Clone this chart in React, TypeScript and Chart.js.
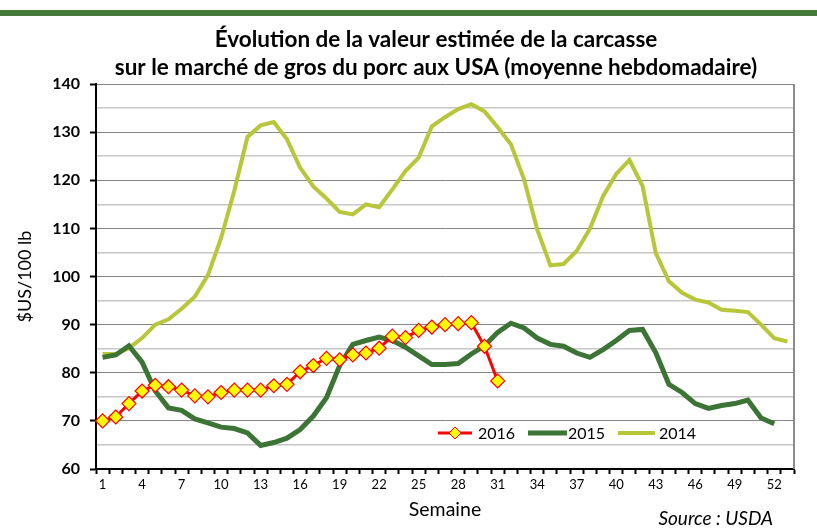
import React, { useEffect, useRef } from 'react';
import { Chart, registerables } from 'chart.js';

Chart.register(...registerables);

const weeks = ['1','2','3','4','5','6','7','8','9','10','11','12','13','14','15','16','17','18','19','20','21','22','23','24','25','26','27','28','29','30','31','32','33','34','35','36','37','38','39','40','41','42','43','44','45','46','47','48','49','50','51','52','53'];

const values2016 = [70.0, 70.8, 73.6, 76.2, 77.4, 77.1, 76.4, 75.2, 75.0, 75.9, 76.4, 76.4, 76.4, 77.3, 77.6, 80.2, 81.5, 83.0, 82.7, 83.7, 84.1, 85.1, 87.6, 87.3, 88.8, 89.5, 90.0, 90.2, 90.4, 85.5, 78.3];

const values2015 = [83.2, 83.7, 85.6, 82.2, 76.2, 72.7, 72.2, 70.4, 69.6, 68.7, 68.4, 67.5, 64.9, 65.5, 66.4, 68.2, 71.0, 74.8, 81.5, 85.9, 86.7, 87.4, 86.7, 85.3, 83.5, 81.7, 81.7, 81.9, 83.9, 85.6, 88.4, 90.3, 89.3, 87.2, 85.9, 85.5, 84.1, 83.2, 84.8, 86.7, 88.8, 89.0, 84.2, 77.6, 75.9, 73.6, 72.6, 73.2, 73.6, 74.3, 70.6, 69.4];

const values2014 = [83.9, 83.9, 85.1, 87.2, 90.0, 91.1, 93.3, 95.8, 100.3, 108.0, 117.8, 129.0, 131.4, 132.1, 128.5, 122.6, 118.7, 116.2, 113.4, 112.9, 115.0, 114.4, 118.1, 121.9, 124.7, 131.2, 133.1, 134.8, 135.8, 134.3, 131.0, 127.5, 120.2, 109.8, 102.3, 102.6, 105.3, 109.9, 116.7, 121.3, 124.2, 118.8, 104.9, 99.0, 96.6, 95.2, 94.6, 93.1, 92.9, 92.6, 90.0, 87.2, 86.5];

const seriesNames = ['2016', '2015', '2014'];
const titleLines = ['Évolution de la valeur estimée de la carcasse', 'sur le marché de gros du porc aux USA (moyenne hebdomadaire)'];
const yTitle = '$US/100 lb';
const xTitle = 'Semaine';
const sourceText = 'Source : USDA';

const FONT = 'Lato, "Liberation Sans", sans-serif';

const decorPlugin = {
  id: 'decor',
  beforeDraw(chart: any) {
    const { ctx, width, height } = chart;
    ctx.save();
    ctx.fillStyle = '#ffffff';
    ctx.fillRect(0, 0, width, height);
    ctx.fillStyle = '#467a3a';
    ctx.fillRect(0, 10, width, 6);
    ctx.fillStyle = '#000000';
    ctx.textAlign = 'center';
    ctx.textBaseline = 'middle';
    ctx.font = 'bold 22.5px ' + FONT;
    ctx.fillText(titleLines[0], 436, 40);
    ctx.fillText(titleLines[1], 436, 68);
    ctx.restore();
  },
  afterDraw(chart: any) {
    const { ctx, chartArea } = chart;
    ctx.save();
    ctx.strokeStyle = '#8c8c8c';
    ctx.lineWidth = 2;
    ctx.beginPath();
    ctx.moveTo(chartArea.right, chartArea.top);
    ctx.lineTo(chartArea.right, chartArea.bottom);
    ctx.stroke();
    ctx.fillStyle = '#000000';
    ctx.font = 'italic 19px ' + FONT;
    ctx.textAlign = 'right';
    ctx.textBaseline = 'middle';
    ctx.fillText(sourceText, 773, 519);
    const y = 433;
    const items = [
      { x0: chartArea.left + 342, x1: chartArea.left + 376, tx: chartArea.left + 382 },
      { x0: chartArea.left + 432, x1: chartArea.left + 471, tx: chartArea.left + 472 },
      { x0: chartArea.left + 522, x1: chartArea.left + 559, tx: chartArea.left + 563 },
    ];
    ctx.font = '16px ' + FONT;
    ctx.textAlign = 'left';
    chart.data.datasets.forEach((ds: any, i: number) => {
      const it = items[i];
      ctx.strokeStyle = ds.borderColor;
      ctx.lineWidth = ds.borderWidth;
      ctx.lineCap = 'butt';
      ctx.beginPath();
      ctx.moveTo(it.x0, y);
      ctx.lineTo(it.x1, y);
      ctx.stroke();
      if (ds.pointRadius > 0) {
        const cx = (it.x0 + it.x1) / 2;
        const r = ds.pointRadius - 1;
        ctx.fillStyle = ds.pointBackgroundColor;
        ctx.strokeStyle = ds.pointBorderColor;
        ctx.lineWidth = 1;
        ctx.beginPath();
        ctx.moveTo(cx, y - r);
        ctx.lineTo(cx + r, y);
        ctx.lineTo(cx, y + r);
        ctx.lineTo(cx - r, y);
        ctx.closePath();
        ctx.fill();
        ctx.stroke();
      }
      ctx.fillStyle = '#000000';
      ctx.fillText(ds.label, it.tx, y + 1);
    });
    ctx.restore();
  },
};

export default function App() {
  const ref = useRef<HTMLCanvasElement | null>(null);
  useEffect(() => {
    if (!ref.current) return;
    const chart = new Chart(ref.current, {
      type: 'line',
      data: {
        labels: weeks,
        datasets: [
          {
            label: seriesNames[0],
            data: values2016,
            borderColor: '#ff0000',
            borderWidth: 3,
            pointStyle: 'rectRot',
            pointRadius: 7,
            pointBackgroundColor: '#ffff00',
            pointBorderColor: '#ff0000',
            pointBorderWidth: 1.2,
            tension: 0,
          },
          {
            label: seriesNames[1],
            data: values2015,
            borderColor: '#3b7434',
            borderWidth: 5,
            pointRadius: 0,
            tension: 0,
          },
          {
            label: seriesNames[2],
            data: values2014,
            borderColor: '#b8c63a',
            borderWidth: 4,
            pointRadius: 0,
            tension: 0,
          },
        ],
      },
      options: {
        animation: false,
        responsive: true,
        maintainAspectRatio: false,
        layout: { padding: { top: 84, right: 23, left: 0, bottom: 0 } },
        plugins: {
          legend: { display: false },
          title: { display: false },
          tooltip: { enabled: false },
        },
        scales: {
          x: {
            type: 'category',
            offset: true,
            afterFit: (scale: any) => { scale.height = 60; },
            grid: {
              offset: true,
              drawOnChartArea: false,
              drawTicks: true,
              tickLength: 5,
              tickColor: '#000000',
              tickWidth: 2,
            },
            border: { color: '#000000', width: 2 },
            ticks: {
              autoSkip: false,
              maxRotation: 0,
              padding: 3,
              color: '#000000',
              font: { family: FONT, size: 13 },
              callback: (_v: any, i: number) => (i % 3 === 0 ? weeks[i] : ''),
            },
            title: {
              display: true,
              text: xTitle,
              color: '#000000',
              font: { family: FONT, size: 19.5 },
              padding: { top: 0, bottom: 8 },
            },
          },
          y: {
            min: 60,
            max: 140,
            afterFit: (scale: any) => { scale.width = 96; },
            grid: {
              color: (c: any) => (c.tick && c.tick.value % 10 === 0 ? '#858585' : '#c8c8c8'),
              lineWidth: (c: any) => (c.tick && c.tick.value % 10 === 0 ? 1 : 1.5),
              tickLength: 6,
              tickColor: (c: any) => (c.tick && c.tick.value % 10 === 0 ? '#000000' : 'rgba(0,0,0,0)'),
              tickWidth: 2,
            },
            border: { color: '#000000', width: 2 },
            ticks: {
              stepSize: 5,
              padding: 10,
              color: '#000000',
              font: { family: FONT, size: 16, weight: 'bold' },
              callback: (v: any) => (Number(v) % 10 === 0 ? String(v) : ''),
            },
            title: {
              display: true,
              text: yTitle,
              color: '#000000',
              font: { family: FONT, size: 18 },
              padding: { top: 14, bottom: 0 },
            },
          },
        },
      },
      plugins: [decorPlugin],
    } as any);
    return () => chart.destroy();
  }, []);
  return (
    <div style={{ position: 'fixed', left: 0, top: 0, width: 817, height: 529, background: '#fff' }}>
      <canvas ref={ref} />
    </div>
  );
}
